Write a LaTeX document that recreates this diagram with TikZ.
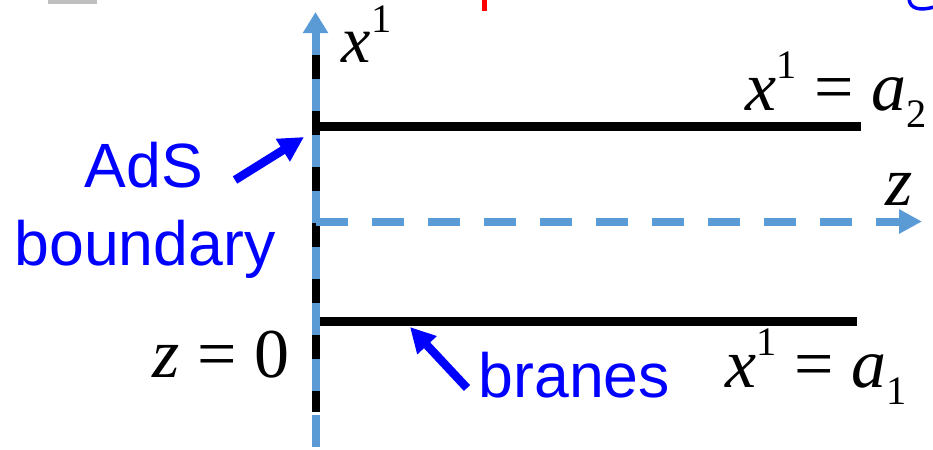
\documentclass[tikz,border=0pt]{standalone}
\usepackage{fontspec}
\setmainfont{Liberation Serif}
\newfontfamily\arialfont{Liberation Sans}
\usetikzlibrary{arrows.meta}
\definecolor{axisblue}{RGB}{91,155,213}
\newcommand{\supidx}[1]{\raisebox{0.45em}{\fontsize{11.5}{12}\selectfont #1}}
\newcommand{\subidx}[1]{\raisebox{-0.25em}{\fontsize{11.5}{12}\selectfont #1}}
\begin{document}
\begin{tikzpicture}[
  axisline/.style={axisblue, line width=0.08cm, dash pattern=on 0.32cm off 0.24cm},
  brane/.style={black, line width=0.085cm},
  pointer/.style={blue, line width=0.085cm, -{Triangle[length=0.25cm,width=0.25cm]}},
  mathlbl/.style={inner sep=0pt, font=\fontsize{19.9}{24}\selectfont},
  bluelbl/.style={inner sep=0pt, text=blue, font=\arialfont\fontsize{17.8}{22}\selectfont}]
\useasboundingbox (0,0) rectangle (9.33,4.49);

\fill[gray!50] (0.48,4.455) rectangle (0.97,4.49);
\fill[red] (4.82,4.38) rectangle (4.87,4.49);
\draw[blue, line width=0.035cm] (9.09,4.5) .. controls (9.10,4.40) and (9.20,4.38) .. (9.34,4.42);

\coordinate (vbot) at (3.155,0.02);
\coordinate (vtop) at (3.155,4.37);
\coordinate (zstart) at (3.155,2.275);
\coordinate (zend) at (9.22,2.275);

\draw[black, line width=0.08cm] (3.155,0.37) -- (3.155,4.1);
\draw[brane] (3.155,3.225) -- (8.61,3.225);
\draw[brane] (3.155,1.275) -- (8.57,1.275);
\draw[axisline, -{Triangle[length=0.21cm,width=0.24cm]}] (vbot) -- (vtop);
\draw[axisline, -{Triangle[length=0.23cm,width=0.23cm]}] (zstart) -- (zend);

\node[mathlbl, anchor=base west, font=\fontsize{18.8}{22}\selectfont] (xlbl) at (3.41,3.87) {\textit{x}\supidx{1}};
\node[mathlbl, anchor=base east] (upperlbl) at (9.27,3.39) {\textit{x}\supidx{1} = \textit{a}\subidx{2}};
\node[mathlbl, anchor=base east] (lowerlbl) at (9.07,0.62) {\textit{x}\supidx{1} = \textit{a}\subidx{1}};
\node[mathlbl, anchor=base west] (zlbl) at (8.85,2.44) {\textit{z}};
\node[mathlbl, anchor=base east] (zzero) at (2.90,0.72) {\textit{z} = 0};

\node[bluelbl, anchor=base] (adslbl) at (1.44,2.62) {AdS};
\node[bluelbl, anchor=base] (bndlbl) at (1.45,1.84) {boundary};
\node[bluelbl, anchor=base west] (branelbl) at (4.78,0.52) {branes};

\coordinate (adstail) at (2.35,2.69);
\coordinate (adstip) at (3.04,3.12);
\coordinate (branetail) at (4.67,0.61);
\coordinate (branetip) at (4.10,1.22);
\draw[pointer] (adstail) -- (adstip);
\draw[pointer] (branetail) -- (branetip);
\end{tikzpicture}
\end{document}
